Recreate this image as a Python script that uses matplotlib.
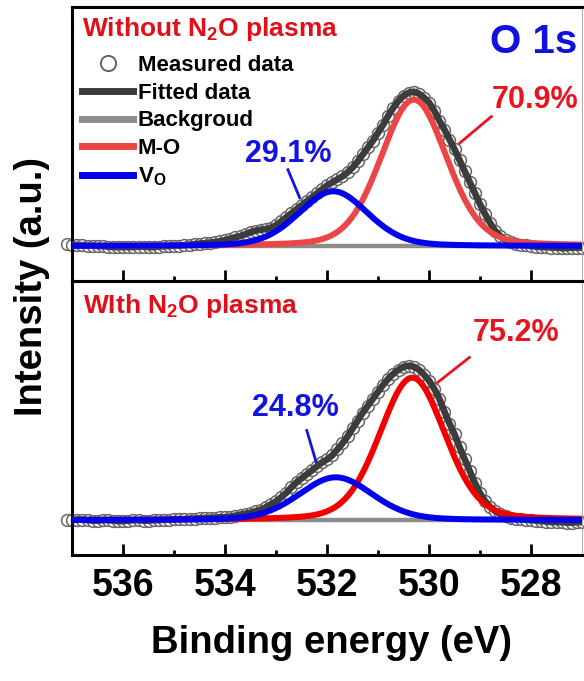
import numpy as np
import matplotlib
matplotlib.use("Agg")
import matplotlib.pyplot as plt
from matplotlib.lines import Line2D

plt.rcParams['font.family'] = ['Liberation Sans', 'DejaVu Sans']
plt.rcParams['font.weight'] = 'bold'
plt.rcParams['mathtext.fontset'] = 'custom'
plt.rcParams['mathtext.rm'] = 'Liberation Sans:bold'
plt.rcParams['mathtext.it'] = 'Liberation Sans:bold'
plt.rcParams['mathtext.bf'] = 'Liberation Sans:bold'

# binding energy grid of the measured points (eV), 537.1 -> 526.9 in 0.1 steps
energy = np.round(np.arange(537.1, 526.85, -0.1), 1)

# measured O 1s intensity (a.u.)
measured_without = [
    2, 1.5, 1, 1, 0.5, 0.5, 0, 0, -0.5, -1,
    -1, -1, -1, -1, -0.5, -0.5, -1, -1, -0.5, 0,
    0, 0.5, 0.5, 1, 1.5, 2, 2.5, 3, 3.5, 4,
    5, 6, 7.5, 9, 10, 12, 14, 15.5, 16.5, 17,
    18.5, 21, 25, 29, 33, 37, 41, 45, 49, 53,
    57, 61, 64, 67, 70, 74, 79, 85, 92, 99,
    106, 114, 122, 131, 139, 146, 151, 154, 155, 153,
    149, 144, 136, 126, 117, 107, 97, 86, 75, 64,
    53, 42, 32, 23, 15, 10, 6, 4, 2.5, 1.5,
    1, 0, -0.5, -1, -1, -1.5, -1.5, -2, -2, -1.5,
    -1.5, -1.5, -1.5]
measured_with = [
    0, 0, 0.5, 0.5, 0, -0.5, -0.5, 0, 0, -0.5,
    -1, -1, -0.5, 0, 0, -0.5, -0.5, 0, 0, 0.5,
    0.5, 1, 1, 1, 1.5, 1.5, 2, 2, 2.5, 2.5,
    3, 3, 3.5, 4.5, 5.5, 6.5, 7.5, 9, 10.5, 13,
    16, 19, 23, 27.5, 33, 38, 42, 46, 50, 54,
    58, 61, 65, 71, 77, 84, 92, 100, 108, 115,
    122, 129, 136, 142, 147, 151, 154, 155, 154, 151,
    146, 140, 132, 122, 109, 97, 86, 73, 61, 49,
    37, 27, 19, 13, 9, 6, 4, 2.5, 1.5, 1,
    0.5, 0, -0.5, -1, -1.5, -2, -2, -2, -2.5, -2.5,
    -2, -2, -2]

# fitted components: [M-O, V_O]
centers_without = [530.30, 531.88]
heights_without = [147, 55]
fwhm_without = [1.53, 1.60]
centers_with = [530.33, 531.83]
heights_with = [143, 43]
fwhm_with = [1.52, 1.70]
lorentz_mix = 0.2

percent_without = ['70.9%', '29.1%']
percent_with = ['75.2%', '24.8%']
titles = ['Without N$_2$O plasma', 'WIth N$_2$O plasma']
xticks = [536, 534, 532, 530, 528]


def peak(e, center, height, fwhm, eta):
    u = (e - center) / fwhm
    g = np.exp(-4 * np.log(2) * u ** 2)
    l = 1 / (1 + 4 * u ** 2)
    return height * ((1 - eta) * g + eta * l)


fig = plt.figure(figsize=(5.84, 6.81), dpi=100)
ax_top = fig.add_axes([0.1238, 0.5874, 0.8728, 0.4023])
ax_bot = fig.add_axes([0.1238, 0.1850, 0.8728, 0.4023])

e_fine = np.linspace(537.1, 526.9, 800)

panels = [
    (ax_top, measured_without, centers_without, heights_without, fwhm_without, '#ec4545'),
    (ax_bot, measured_with, centers_with, heights_with, fwhm_with, '#f20000'),
]
for ax, meas, cen, hei, fw, red in panels:
    ax.plot(energy, meas, 'o', ms=8.5, mfc='white', mec='#666666', mew=1.1,
            zorder=2, clip_on=False)
    ax.plot(energy, meas, color='#3c3c3c', lw=4.8, zorder=3)
    ax.plot(e_fine, np.zeros_like(e_fine), color='#8c8c8c', lw=3.2, zorder=3.5)
    ax.plot(e_fine, peak(e_fine, cen[0], hei[0], fw[0], lorentz_mix), color=red, lw=4.3, zorder=4)
    ax.plot(e_fine, peak(e_fine, cen[1], hei[1], fw[1], lorentz_mix), color='#0000ee', lw=4.3, zorder=5)

    ax.set_xlim(537, 527)
    ax.set_ylim(-35, 240)
    ax.set_yticks([])
    ax.set_xticks(xticks)
    ax.set_xticks([535, 533, 531, 529], minor=True)
    ax.tick_params(axis='x', which='major', direction='in', length=8, width=2, top=False)
    ax.tick_params(axis='x', which='minor', direction='in', length=3.5, width=2, top=False)
    for s in ['left', 'top', 'bottom']:
        ax.spines[s].set_linewidth(2.2)
    ax.spines['right'].set_linewidth(0.8)
    ax.spines['right'].set_color('#b0b0b0')

ax_top.tick_params(axis='x', labelbottom=False)
ax_bot.tick_params(axis='x', labelsize=27, pad=9)
ax_top.spines['bottom'].set_zorder(6)

# panel titles
ax_top.text(0.019, 0.893, titles[0], transform=ax_top.transAxes, color='#e0101a',
            fontsize=19, fontweight='bold', ha='left', va='baseline')
ax_bot.text(0.021, 0.885, titles[1], transform=ax_bot.transAxes, color='#e0101a',
            fontsize=19, fontweight='bold', ha='left', va='baseline')
ax_top.text(0.990, 0.832, 'O 1s', transform=ax_top.transAxes, color='#1010e0',
            fontsize=29, fontweight='bold', ha='right', va='baseline')

# area percentages with leader lines
ax_top.text(528.78, 138.7, percent_without[0], color='#e8141e', fontsize=22, ha='left', va='baseline')
ax_top.plot([529.40, 528.78], [103.4, 130], color='#e8141e', lw=2)
ax_top.text(533.62, 84.7, percent_without[1], color='#1414e0', fontsize=22, ha='left', va='baseline')
ax_top.plot([532.77, 532.54], [76.7, 48.7], color='#1414e0', lw=2)

ax_bot.text(529.15, 180, percent_with[0], color='#e8141e', fontsize=22, ha='left', va='baseline')
ax_bot.plot([529.21, 529.83], [163.3, 138.3], color='#e8141e', lw=2)
ax_bot.text(533.48, 104.3, percent_with[1], color='#1414e0', fontsize=22, ha='left', va='baseline')
ax_bot.plot([532.40, 532.21], [90, 57.3], color='#1414e0', lw=2)

# legend
handles = [
    Line2D([], [], ls='none', marker='o', ms=11, mfc='white', mec='#5a5a5a', mew=1.3),
    Line2D([], [], color='#3c3c3c', lw=5),
    Line2D([], [], color='#8c8c8c', lw=5),
    Line2D([], [], color='#ec4545', lw=5),
    Line2D([], [], color='#0000ee', lw=5),
]
labels = ['Measured data', 'Fitted data', 'Backgroud', 'M-O', 'V$_\\mathrm{O}$']
leg = ax_top.legend(handles, labels, loc='upper left', bbox_to_anchor=(0.019, 0.825),
                    frameon=False, fontsize=16, handlelength=2.3, handletextpad=0.2,
                    labelspacing=0.3, borderpad=0, borderaxespad=0)

fig.text(0.055, 0.5786, 'Intensity (a.u.)', rotation=90, fontsize=27.5, fontweight='bold',
         ha='center', va='center')
fig.text(0.568, 0.0558, 'Binding energy (eV)', fontsize=27.5, fontweight='bold',
         ha='center', va='center')

fig.savefig('out.png', dpi=100)
